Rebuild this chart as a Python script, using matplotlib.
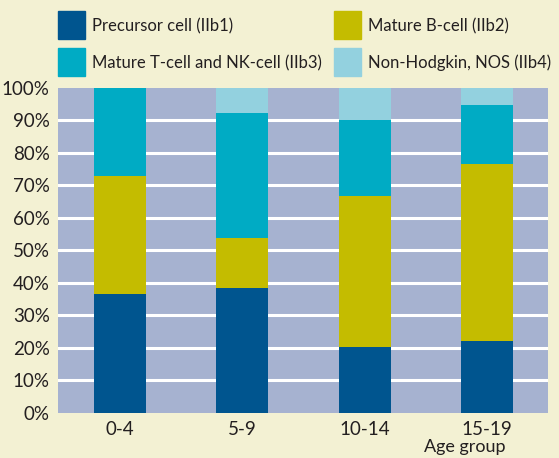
import numpy as np
import matplotlib.pyplot as plt
from matplotlib.patches import Rectangle

plt.rcParams['font.family'] = ['Lato', 'DejaVu Sans']

age_groups = ['0-4', '5-9', '10-14', '15-19']
series_names = ['Precursor cell (IIb1)', 'Mature B-cell (IIb2)',
                'Mature T-cell and NK-cell (IIb3)', 'Non-Hodgkin, NOS (IIb4)']
precursor = [36.5, 38.4, 20.2, 22.1]
mature_b = [36.4, 15.4, 46.5, 54.5]
mature_t = [27.1, 38.4, 23.4, 18.1]
nos = [0.0, 7.8, 9.9, 5.3]
colors = ['#00558F', '#C4BC00', '#00ABC4', '#93D1DF']

text_col = '#231F20'
W, H = 559, 458
fig = plt.figure(figsize=(W / 100, H / 100), dpi=100, facecolor='#F3F1D3')
ax = fig.add_axes([0.1038, 0.0987, 0.8766, 0.7096])
ax.set_facecolor('#A6B2D0')

x = np.arange(len(age_groups))
bottom = np.zeros(len(age_groups))
for vals, c in zip([precursor, mature_b, mature_t, nos], colors):
    ax.bar(x, vals, width=0.425, bottom=bottom, color=c, zorder=3)
    bottom += np.array(vals)

ax.set_xlim(-0.507, 3.5)
ax.set_ylim(0, 100)
ax.set_yticks(np.arange(0, 101, 10))
ax.set_yticklabels([f'{v}%' for v in range(0, 101, 10)])
ax.set_xticks(x)
ax.set_xticklabels(age_groups)
for v in range(10, 100, 10):
    ax.axhline(v, color='white', lw=2.2, zorder=1)
ax.tick_params(length=0, labelsize=13.5, colors=text_col, pad=6)
for s in ax.spines.values():
    s.set_visible(False)

fig.text(506 / W, 1 - 447 / H, 'Age group', ha='right', va='center',
         fontsize=13, color=text_col)

# legend drawn by hand: 2 columns x 2 rows
leg_x = [58, 334]
leg_y = [11, 48]
for k, (name, c) in enumerate(zip(series_names, colors)):
    col, row = k % 2, k // 2
    px, py = leg_x[col], leg_y[row]
    fig.add_artist(Rectangle((px / W, 1 - (py + 28) / H), 27 / W, 28 / H,
                             transform=fig.transFigure, color=c))
    fig.text((px + 34) / W, 1 - (py + 15) / H, name, ha='left', va='center',
             fontsize=12, color=text_col)

fig.savefig('out.png', dpi=100, facecolor=fig.get_facecolor())
